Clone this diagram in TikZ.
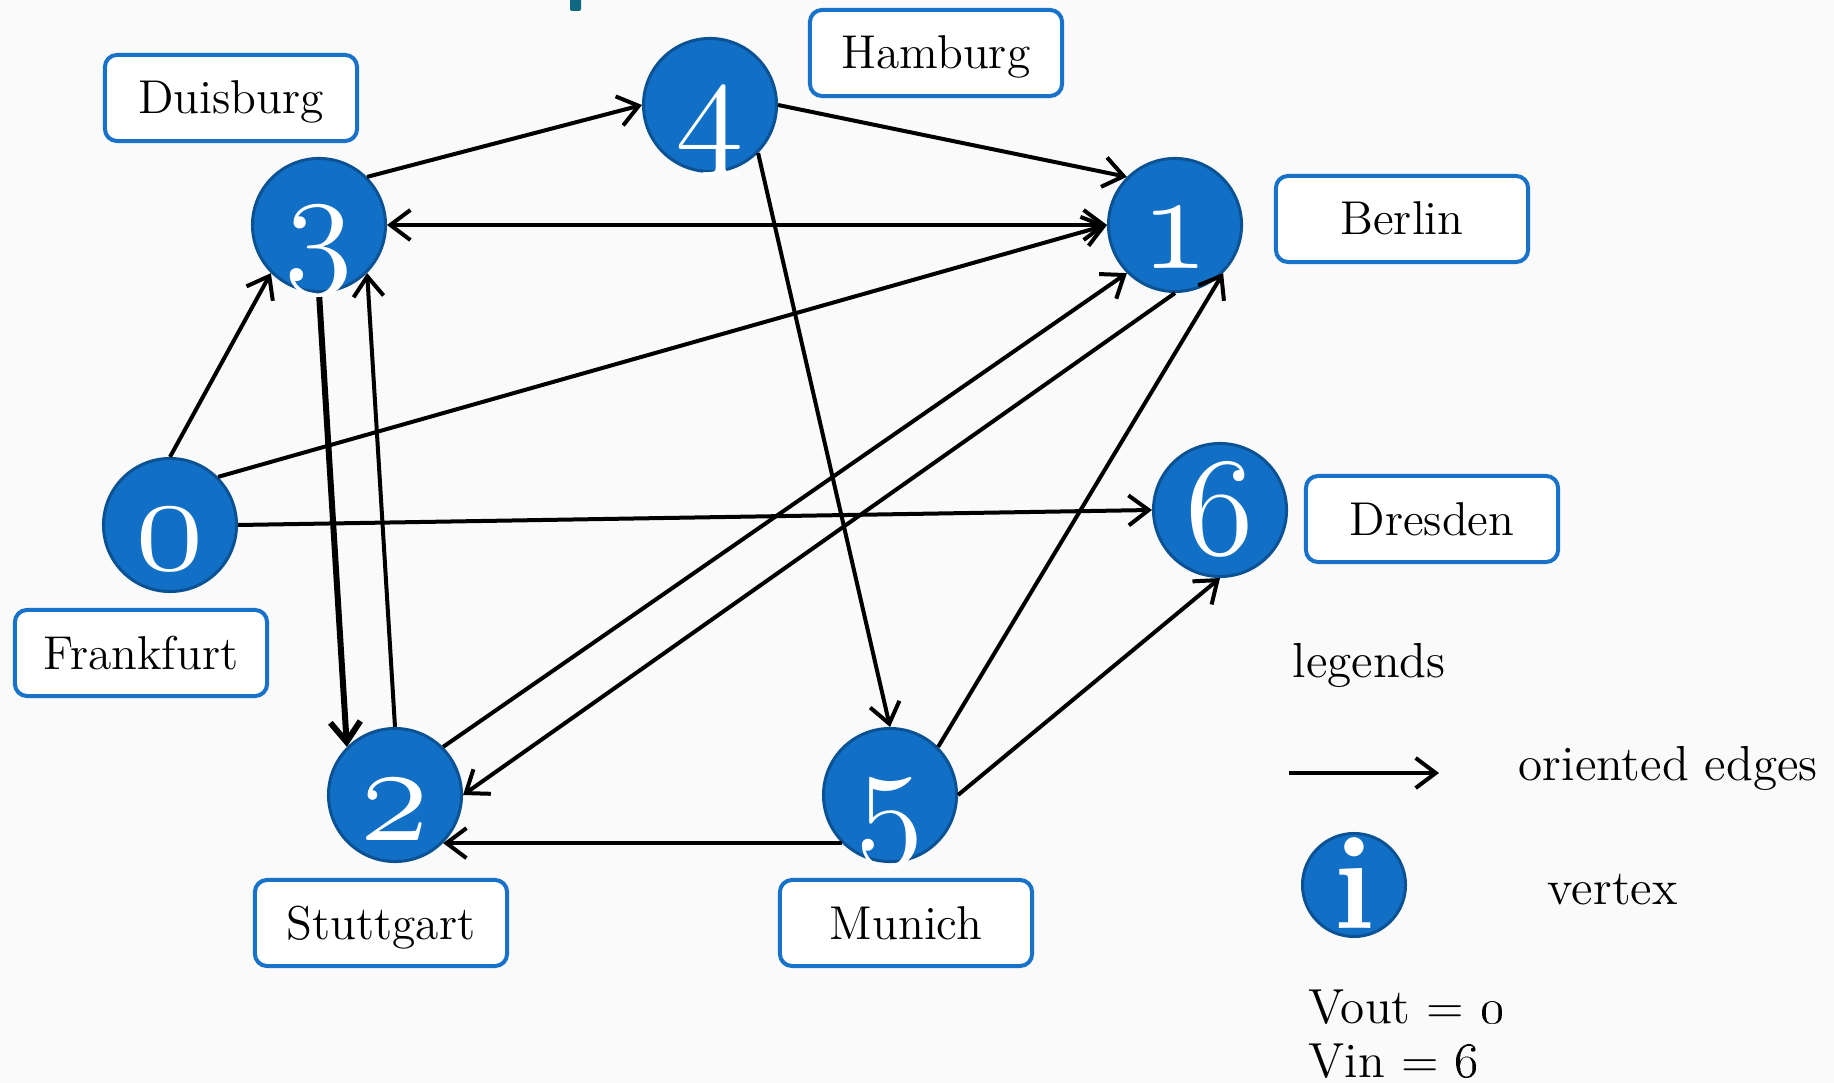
\documentclass[tikz,border=0pt]{standalone}
\usetikzlibrary{arrows.meta}
\definecolor{vfill}{RGB}{18,111,198}
\definecolor{vedge}{RGB}{11,82,148}
\definecolor{boxblue}{RGB}{24,114,201}
\definecolor{titleteal}{RGB}{14,104,128}
\definecolor{paper}{RGB}{250,250,250}
\begin{document}
\begin{tikzpicture}[x=0.01cm,y=-0.01cm,
    >={Straight Barb[length=2mm,width=3mm]},
    vertex/.style={circle,fill=vfill,draw=vedge,line width=0.03cm,
      minimum size=1.33cm,inner sep=0pt},
    digit/.style={anchor=base,inner sep=0pt,text=white,
      scale=1.6,transform shape,
      font=\fontencoding{OML}\fontfamily{cmm}\fontseries{m}\fontshape{it}%
        \fontsize{24.88}{26}\selectfont},
    city/.style={draw=boxblue,fill=white,line width=0.04cm,
      rounded corners=0.12cm,minimum width=2.52cm,minimum height=0.86cm,
      inner sep=0pt,text height=0.38cm,text depth=0.06cm,
      font=\fontsize{13.5}{15}\selectfont},
    link/.style={->,line width=0.04cm},
    legtext/.style={anchor=base west,inner sep=0pt,
      font=\fontsize{14}{16}\selectfont}]
    \useasboundingbox (0,0) rectangle (1834,1083);
    \fill[paper] (0,0) rectangle (1834,1083);
    %% title fragment
    \fill[titleteal,rounded corners=0.02cm] (570,-5) rectangle (581,11);
    %% vertices
    \node[vertex] (n0) at (170,525) {};
    \node[vertex] (n1) at (1175,225) {};
    \node[vertex] (n2) at (395,795) {};
    \node[vertex] (n3) at (319,225) {};
    \node[vertex] (n4) at (710,105) {};
    \node[vertex] (n5) at (890,795) {};
    \node[vertex] (n6) at (1220,510) {};
    %% edges
    \draw[link] (n3.north east) -- (n4.west);
    \draw[link] (n4.east) -- (n1.north west);
    \draw[link,<->] (n3.east) -- (n1.west);
    \draw[link] (n0.north) -- (n3.south west);
    \draw[link] (n0.north east) -- (n1.west);
    \draw[link] (n0.east) -- (n6.west);
    \draw[link,line width=0.06cm] (n3.south) -- (n2.north west);
    \draw[link] (n2.north) -- (n3.south east);
    \draw[link] (n4.south east) -- (n5.north);
    \draw[link] (n2.north east) -- (n1.south west);
    \draw[link] (n1.south) -- (n2.east);
    \draw[link] (n5.north east) -- (n1.south east);
    \draw[link] (n5.east) -- (n6.south);
    \draw[link] (n5.south west) -- (n2.south east);
    %% numbers
    \node[digit] (d0) at (170,570) {0};
    \node[digit] (d1) at (1175,269) {1};
    \node[digit] (d2) at (395,840) {2};
    \node[digit] (d3) at (319,268) {3};
    \node[digit] (d4) at (710,150) {4};
    \node[digit] (d5) at (890,840) {5};
    \node[digit] (d6) at (1220,555) {6};
    %% cities
    \node[city] (duisburg) at (231,98) {Duisburg};
    \node[city] (hamburg) at (936,53) {Hamburg};
    \node[city] (berlin) at (1402,219) {Berlin};
    \node[city] (dresden) at (1432,519) {Dresden};
    \node[city] (frankfurt) at (141,653) {Frankfurt};
    \node[city] (stuttgart) at (381,923) {Stuttgart};
    \node[city] (munich) at (906,923) {Munich};
    %% legend
    \node[legtext] (legends) at (1292,678) {legends};
    \coordinate (la) at (1289,773);
    \coordinate (lb) at (1439,773);
    \draw[link] (la) -- (lb);
    \node[legtext] (oriented) at (1518,781) {oriented edges};
    \node[vertex,minimum size=1.03cm] (li) at (1354,885) {};
    \node[digit,scale=0.625,font=\fontsize{38}{40}\selectfont\bfseries] (ltext)
      at (1354,928) {i};
    \node[legtext] (vertex) at (1547,904) {vertex};
    \node[legtext] (vout) at (1308,1023) {Vout = \oldstylenums{0}};
    \node[legtext] (vin) at (1308,1077) {Vin = \oldstylenums{6}};
\end{tikzpicture}
\end{document}
